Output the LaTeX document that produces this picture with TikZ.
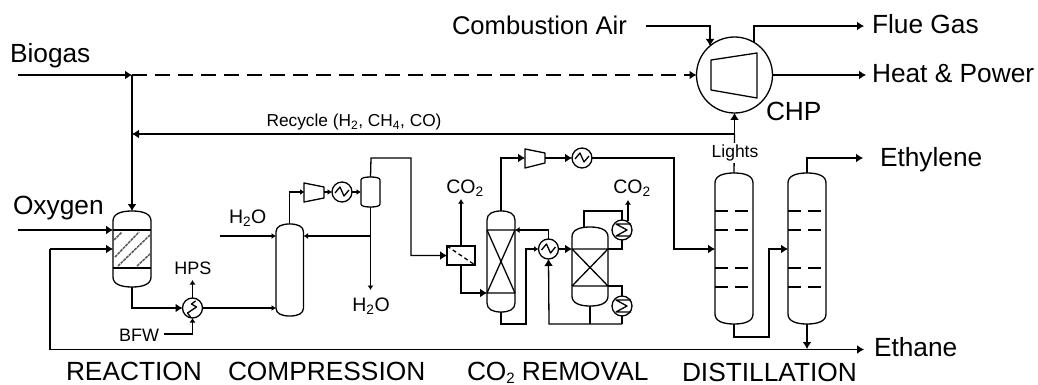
\documentclass[tikz,border=0pt]{standalone}
\usepackage{fontspec}
\setmainfont{Liberation Sans}
\usetikzlibrary{arrows.meta,calc}
\newcommand\vessel[6]{%
  \pgfmathsetmacro\vw{#4-#2}\pgfmathsetmacro\vh{#5-#3}\pgfmathsetmacro\vm{(#2+#4)/2}%
  \node[vesselbox,minimum width=\vw pt,minimum height=\vh pt] (#1) at ({(#2+#4)/2},{(#3+#5)/2}) {};%
  \draw[eq] (#2,#3+#6) .. controls (#2,#3+0.3*#6) and (\vm-0.3*\vw,#3) .. (\vm,#3)
    .. controls (\vm+0.3*\vw,#3) and (#4,#3+0.3*#6) .. (#4,#3+#6)
    -- (#4,#5-#6) .. controls (#4,#5-0.3*#6) and (\vm+0.3*\vw,#5) .. (\vm,#5)
    .. controls (\vm-0.3*\vw,#5) and (#2,#5-0.3*#6) .. (#2,#5-#6) -- cycle;}
\tikzset{
  every node/.style={inner sep=0pt,outer sep=0pt,font=\fontsize{26.3}{26}\selectfont},
  vesselbox/.style={rectangle,draw=none},
  eq/.style={line width=1.3pt,line join=round},
  line/.style={line width=1.3pt,line join=miter},
  arr/.style={line,-{Latex[length=7pt,width=9pt]}},
  sarr/.style={line,-{Latex[length=4.5pt,width=6pt]}},
  hx/.style={circle,draw,line width=1.3pt,minimum size=20pt,fill=white},
  med/.style={font=\fontsize{19.5}{20}\selectfont},
  small/.style={font=\fontsize{18}{18}\selectfont},
  tiny/.style={font=\fontsize{17.5}{17}\selectfont},
}
\newcommand\hxwave[1]{\draw[eq] ($(#1)+(-7,1)$) -- ($(#1)+(-2,-5)$) -- ($(#1)+(2,4)$) -- ($(#1)+(7,-2)$);}
\newcommand\hxup[1]{\draw[eq] ($(#1)+(-2,9)$) -- ($(#1)+(-5,5)$) -- ($(#1)+(4,-1)$) -- ($(#1)+(-1,-4)$) -- ($(#1)+(3,-7)$);}
\newcommand\hxm[1]{\draw[eq] ($(#1)+(9,-6)$) -- ($(#1)+(-6,-6)$) -- ($(#1)+(5,0)$) -- ($(#1)+(-6,6)$) -- ($(#1)+(9,6)$);}
\begin{document}
\begin{tikzpicture}[x=1pt,y=-1pt]
\useasboundingbox (0,0) rectangle (1038,385);
% --- equipment
\vessel{reactor}{113}{211}{151}{287}{10}
\vessel{flash}{276}{224}{303.5}{316}{8}
\vessel{drum}{361}{177}{380}{207}{3}
\vessel{absorber}{487}{211}{515}{312}{9}
\vessel{stripper}{572}{227}{608}{306}{10}
\vessel{colA}{715}{173}{753}{324}{10}
\vessel{colB}{788}{173}{826}{324}{10}
\node[hx] (hxA) at (192.5,308) {};
\node[hx] (hxB) at (342,192) {};
\node[hx] (hxC) at (582,158) {};
\node[hx] (hxD) at (548.5,249) {};
\node[hx] (cond) at (622,230) {};
\node[hx] (reb) at (622,306) {};
\node[circle,draw,line width=1.3pt,minimum size=76pt] (chp) at (734.5,75) {};
\node[draw,line width=1.3pt,minimum width=28pt,minimum height=19pt] (memb) at (461,255.5) {};
\node[minimum width=19pt,minimum height=19pt] (compA) at (314,192) {};
\node[minimum width=20pt,minimum height=19pt] (compB) at (535,158) {};
\draw[eq] (304,183)--(324,187)--(324,198)--(304,202)--cycle;
\draw[eq] (525,149)--(545,153)--(545,163)--(525,168)--cycle;
\draw[eq] (711,60)--(757,53)--(757,98)--(711,90)--cycle;
\draw[line width=1.3pt,dash pattern=on 4pt off 3pt] (memb.north west)--(memb.south east);
% reactor internals
\coordinate (rT) at (113,230); \coordinate (rB) at (113,268);
\draw[eq] (rT)--(rT-|reactor.east) (rB)--(rB-|reactor.east);
\begin{scope}[line width=1.5pt,gray!70!black,dash pattern=on 3pt off 0.8pt]
\draw (114,240)--(122,232); \draw (115,257)--(139,232);
\draw (118,266)--(150,235); \draw (137,266)--(150,254);
\end{scope}
% absorber internals
\coordinate (aT) at (487,230); \coordinate (aB) at (487,293);
\draw[eq] (aT)--(aT-|absorber.east) (aB)--(aB-|absorber.east)
  (aT)--(aB-|absorber.east) (aB)--(aT-|absorber.east);
\coordinate (sT) at (572,249); \coordinate (sB) at (572,286);
\draw[eq] (sT)--(sT-|stripper.east) (sB)--(sB-|stripper.east)
  (sT)--(sB-|stripper.east) (sB)--(sT-|stripper.east);
% trays
\foreach \c in {colA,colB}{
 \foreach \yy in {211,230,268,287}{
  \coordinate (tr) at (\c.west|-0,\yy);
  \draw[line] (tr)--++(13,0) ($(tr)+(20,0)$)--++(13,0);
 }}
% heat exchanger symbols
\hxup{hxA}
\hxwave{hxB}\hxwave{hxC}\hxwave{hxD}
\hxm{cond}\hxm{reb}
% --- streams
\coordinate (bioIn) at (18,75);
\coordinate (bioJ) at (bioIn-|reactor.north);
\coordinate (recJ) at (reactor.north|-0,134);
\coordinate (recS) at (chp.south|-0,134);
\draw[arr] (bioIn)--(bioJ);
\draw[line,dash pattern=on 15pt off 8pt] (bioJ)--($(chp.west)+(-7,0)$);
\draw[arr] ($(chp.west)+(-7,0)$)--(chp.west);
\draw[arr] (bioJ)--(reactor.north);
\draw[arr] (recS)--(recJ);
\draw[arr] (recS)--(chp.south);
\draw[line] (colA.north)--(recS);
\node[tiny,fill=white,inner ysep=2pt,inner xsep=2pt] (lights) at (735,153) {Lights};
\node[anchor=base,font=\fontsize{17.3}{17}\selectfont] (rec) at (354,127) {Recycle (H\textsubscript{2}, CH\textsubscript{4}, CO)};
\coordinate (oxIn) at (18,230);
\draw[arr] (oxIn)--(oxIn-|reactor.west);
\coordinate (loopT) at (50,249);
\coordinate (loopB) at (50,349.5);
\draw[line] (loopB)--(loopT);
\draw[arr] (loopT)--(loopT-|reactor.west);
\coordinate (ethEnd) at (864,349.5);
\draw[arr] (loopB)--(ethEnd);
\draw[arr] (reactor.south)|-(hxA.west);
\draw[sarr] (hxA.north)--++(0,-18) coordinate (hpsT);
\coordinate (bfw) at (164,334);
\draw[sarr] (bfw)-|(hxA.south);
\draw[sarr] (hxA.east)--(hxA.east-|flash.west);
\coordinate (wIn) at (220,236);
\draw[sarr] (wIn)--(wIn-|flash.west);
\draw[sarr] (flash.north)|-(compA.west);
\draw[sarr] (324,192)--(hxB.west);
\draw[sarr] (hxB.east)--(drum.west);
\coordinate (j1) at (drum.south|-0,236);
\draw[sarr] (j1)--(j1-|flash.east);
\draw[sarr] (drum.south)--++(0,83) coordinate (wOut);
\coordinate (p1) at (371,158); \coordinate (p2) at (411,158);
\draw[arr] (drum.north)--(p1)--(p2)|-(memb.west);
\draw[sarr] (memb.north)--++(0,-47);
\draw[arr] (memb.south)|-(aB);
\coordinate (a2) at (absorber.north|-0,158);
\draw[arr] (absorber.north)--(a2)--(compB.west);
\draw[arr] (545,158)--(hxC.west);
\coordinate (h1) at (674,158);
\draw[arr] (hxC.east)--(h1)|-(colA.west|-0,249);
\coordinate (a3) at (absorber.south|-0,324);
\coordinate (a4) at (526,324);
\draw[sarr] (absorber.south)--(a3)--(a4)|-(hxD.west);
\draw[arr] (hxD.east)--(sT);
\draw[sarr] (hxD.north)|-(aT-|absorber.east);
\coordinate (s1) at (608,249); \coordinate (s2) at (608,286);
\coordinate (s3) at (622,211); \coordinate (s4) at (584,211);
\draw[line] (s1)-|(cond.south);
\draw[line] (cond.north)--(s3)--(s4)--(s4|-stripper.north);
\draw[sarr] (628,221)--(628,200);
\draw[line] (s2)-|(reb.north);
\coordinate (s5) at (622,324);
\draw[line] (reb.south)--(s5);
\coordinate (s6) at (549,324);
\draw[arr] (s5)--(s6)--(hxD.south);
\draw[line] (stripper.south)--(stripper.south|-0,324);
\coordinate (c1) at (colA.south|-0,337);
\coordinate (c2) at (769,337);
\draw[arr] (colA.south)--(c1)--(c2)|-(colB.west|-0,249);
\draw[arr] (colB.south)--(colB.south|-0,349);
\coordinate (c3) at (colB.north|-0,158);
\draw[arr] (colB.north)--(c3)--(863,158);
% CHP
\coordinate (ca) at (646,26); \coordinate (cb) at (710,26);
\draw[arr] (ca)--(cb)--(710,46);
\coordinate (fa) at (754,42);\coordinate (fb) at (754,26);
\draw[arr] (fa)--(fb)--(864,26);
\draw[arr] (chp.east)--(866,75);
% --- labels
\node[anchor=base west] (tBio) at (10,63) {Biogas};
\node[anchor=base west] (tOx) at (13,214) {Oxygen};
\node[anchor=base west,font=\fontsize{25.6}{26}\selectfont] (tAir) at (452,35) {Combustion Air};
\node[anchor=base west] (tFl) at (872,34) {Flue Gas};
\node[anchor=base west] (tHe) at (872,83) {Heat \& Power};
\node[anchor=base west] (tCHP) at (766,121) {CHP};
\node[anchor=base west] (tEy) at (880,166) {Ethylene};
\node[anchor=base west] (tEa) at (874,356) {Ethane};
\node[anchor=base west] (tR) at (66,380) {REACTION};
\node[anchor=base west] (tCm) at (228,380) {COMPRESSION};
\node[anchor=base west] (tCO) at (467,380) {CO\raisebox{-3pt}{\fontsize{15}{15}\selectfont 2}\hspace{7pt}REMOVAL};
\node[anchor=base west] (tD) at (682,381) {DISTILLATION};
\node[med,anchor=base west] (w1) at (229,223) {H\textsubscript{2}O};
\node[med,anchor=base] (w2) at (371,311) {H\textsubscript{2}O};
\node[med,anchor=base] (c21) at (465,193) {CO\textsubscript{2}};
\node[med,anchor=base] (c22) at (632,193) {CO\textsubscript{2}};
\node[small,anchor=base] (hps) at (193,274) {HPS};
\node[small,anchor=base] (bf) at (139,341) {BFW};
\end{tikzpicture}
\end{document}
